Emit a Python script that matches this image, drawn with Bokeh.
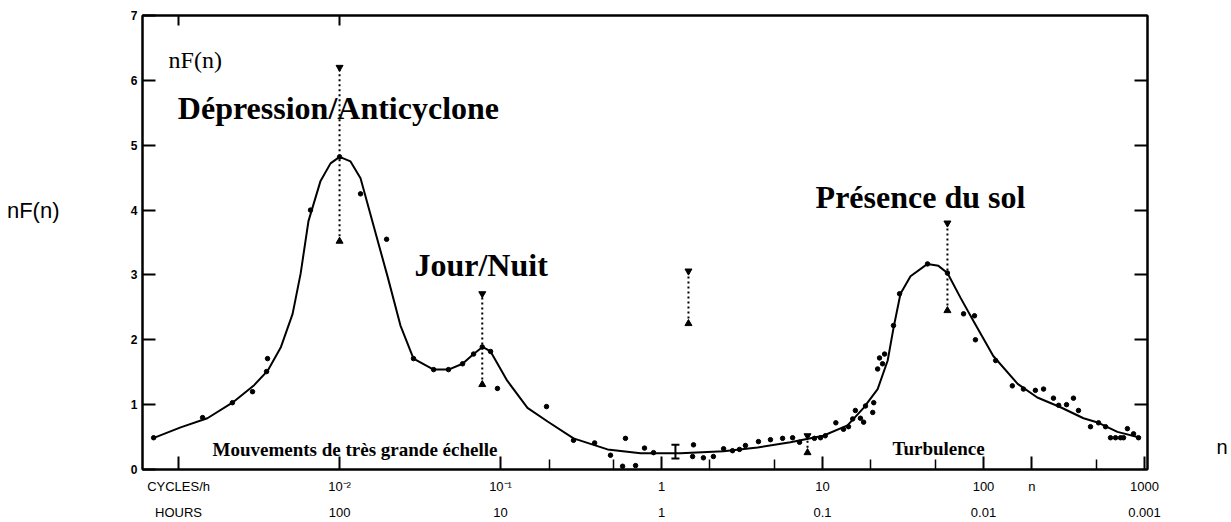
from bokeh.plotting import figure
from bokeh.models import Range1d, FixedTicker, LogAxis, LinearAxis, Label
from bokeh.embed import file_html
from bokeh.resources import INLINE

# ---- data (n in cycles/h, nF(n)) ----
curve_n = [6.9e-4, 1.03e-3, 1.51e-3, 2.16e-3, 2.92e-3, 3.57e-3, 4.31e-3, 5.11e-3, 5.73e-3,
           6.41e-3, 7.62e-3, 8.79e-3, 0.0100, 0.0117, 0.0135, 0.0163, 0.0199, 0.0239, 0.0288,
           0.0384, 0.0475, 0.0581, 0.0680, 0.0773, 0.0867, 0.110, 0.147, 0.196, 0.284, 0.462,
           0.741, 1.31, 2.43, 3.95, 6.32, 10.1, 14.3, 18.0, 22.0, 25.4, 27.6, 30.5, 35.2, 44.9,
           52.5, 59.7, 71.9, 86.6, 115, 163, 216, 301, 418, 518, 679, 944]
curve_nf = [0.48, 0.65, 0.79, 1.03, 1.29, 1.52, 1.88, 2.40, 3.02,
            3.83, 4.45, 4.72, 4.82, 4.75, 4.49, 3.75, 2.97, 2.22, 1.71,
            1.54, 1.54, 1.63, 1.78, 1.89, 1.82, 1.37, 0.95, 0.74, 0.48, 0.31,
            0.25, 0.25, 0.28, 0.34, 0.42, 0.52, 0.68, 0.95, 1.24, 1.68, 2.18, 2.71, 2.98, 3.17,
            3.14, 3.03, 2.65, 2.29, 1.75, 1.32, 1.11, 0.96, 0.79, 0.72, 0.58, 0.49]

pts_n = [7.0e-4, 1.41e-3, 2.16e-3, 2.88e-3, 3.52e-3, 3.57e-3, 6.6e-3, 0.01, 0.0135, 0.0196,
         0.0288, 0.0384, 0.0475, 0.0581, 0.0680, 0.077, 0.0867, 0.0957, 0.193,
         0.284, 0.384, 0.482, 0.573, 0.597, 0.690, 0.784, 0.892,
         1.56, 1.58, 1.82, 2.10, 2.43, 2.76, 3.05, 3.32, 4.00, 4.75, 5.65, 6.52, 7.20,
         8.91, 9.72, 10.4, 12.1, 13.5, 14.5, 15.4, 16.0, 17.2, 18.0, 18.5, 20.5, 20.8,
         22.0, 22.6, 23.6, 24.3, 27.6, 30.1, 44.9, 59.7, 75.2, 87.9, 89.1,
         119, 151, 177, 210, 236, 272, 293, 328, 362, 389, 462, 518, 573,
         615, 661, 710, 741, 783, 855, 918]
pts_nf = [0.49, 0.80, 1.03, 1.20, 1.51, 1.71, 4.00, 4.82, 4.25, 3.55,
          1.71, 1.54, 1.54, 1.63, 1.78, 1.89, 1.82, 1.25, 0.97,
          0.45, 0.41, 0.22, 0.05, 0.48, 0.06, 0.33, 0.26,
          0.20, 0.38, 0.18, 0.20, 0.32, 0.29, 0.31, 0.37, 0.43, 0.46, 0.48, 0.49, 0.42,
          0.48, 0.49, 0.52, 0.72, 0.62, 0.66, 0.78, 0.91, 0.79, 0.73, 0.98, 0.88, 1.03,
          1.55, 1.72, 1.63, 1.78, 2.22, 2.71, 3.17, 3.03, 2.40, 2.37, 2.00,
          1.68, 1.29, 1.24, 1.22, 1.24, 1.10, 0.99, 1.00, 1.10, 0.91, 0.66, 0.72, 0.66,
          0.49, 0.49, 0.49, 0.49, 0.63, 0.55, 0.49]

# dotted range bars
bar_n = [0.01, 0.077, 1.47, 59.7, 8.07]
bar_hi = [6.2, 2.71, 3.06, 3.80, 0.52]
bar_lo = [3.52, 1.31, 2.25, 2.45, 0.26]
# solid bar with caps
ibar_n = [1.22]
ibar_hi = [0.38]
ibar_lo = [0.17]

decade_ticks = [0.001, 0.01, 0.1, 1, 10, 100, 200, 1000]
minor_ticks = [0.2, 0.5, 2, 5, 20, 50, 500]
cycle_labels = ["CYCLES/h", "10⁻²", "10⁻¹", "1", "10", "100", "n", "1000"]
hour_ticks = [0.001, 0.01, 0.1, 1, 10, 100, 1000]
hour_labels = ["HOURS", "100", "10", "1", "0.1", "0.01", "0.001"]
top_ticks = [0.001, 0.01]
y_ticks = [0, 1, 2, 3, 4, 5, 6, 7]
right_ticks = [1, 2, 3, 4, 5, 6]
y_title_pos = [4.0]
y_title = ["nF(n)"]
x_title_pos = [0.34]
x_title = ["n"]

p = figure(width=1231, height=522, x_axis_type="log",
           x_axis_location=None, y_axis_location=None,
           x_range=Range1d(5.97e-4, 1044), y_range=Range1d(0, 7),
           min_border_left=142, min_border_right=84, min_border_top=15, min_border_bottom=53,
           output_backend="svg", toolbar_location=None)
p.grid.visible = False
p.outline_line_color = "black"
p.outline_line_width = 2
p.background_fill_color = "white"
p.border_fill_color = "white"

# bottom axis: cycles/h
xa = LogAxis(ticker=FixedTicker(ticks=decade_ticks, minor_ticks=minor_ticks))
xa.major_label_overrides = {t: l for t, l in zip(decade_ticks, cycle_labels)}
xa.axis_line_width = 2
xa.major_tick_in = 13
xa.major_tick_out = 0
xa.minor_tick_in = 10
xa.minor_tick_out = 0
xa.major_tick_line_width = 2
xa.minor_tick_line_width = 1.5
xa.major_label_standoff = 9
xa.major_label_text_font = "Liberation Sans"
xa.major_label_text_font_size = "13px"
xa.major_label_text_color = "black"
p.add_layout(xa, "below")

# second bottom axis: hours
ha = LogAxis(ticker=FixedTicker(ticks=hour_ticks, minor_ticks=[]))
ha.major_label_overrides = {t: l for t, l in zip(hour_ticks, hour_labels)}
ha.axis_line_color = None
ha.major_tick_line_color = None
ha.minor_tick_line_color = None
ha.major_label_standoff = 2
ha.major_label_text_font = "Liberation Sans"
ha.major_label_text_font_size = "13px"
ha.major_label_text_color = "black"
p.add_layout(ha, "below")

# left axis
ya = LinearAxis(ticker=FixedTicker(ticks=y_ticks, minor_ticks=[]))
ya.axis_line_width = 2
ya.major_tick_in = 13
ya.major_tick_out = 0
ya.major_tick_line_width = 2
ya.major_label_standoff = 5
ya.major_label_text_font = "Liberation Sans"
ya.major_label_text_font_style = "bold"
ya.major_label_text_font_size = "12px"
ya.major_label_text_color = "black"
p.add_layout(ya, "left")

# outer left title "nF(n)" (label-only axis)
yt = LinearAxis(ticker=FixedTicker(ticks=y_title_pos, minor_ticks=[]))
yt.major_label_overrides = {t: l for t, l in zip(y_title_pos, y_title)}
yt.axis_line_color = None
yt.major_tick_line_color = None
yt.minor_tick_line_color = None
yt.major_label_standoff = 62
yt.major_label_text_font = "Liberation Sans"
yt.major_label_text_font_size = "22px"
yt.major_label_text_color = "black"
p.add_layout(yt, "left")

# right axis (ticks only)
ra = LinearAxis(ticker=FixedTicker(ticks=right_ticks, minor_ticks=[]))
ra.axis_line_width = 2
ra.major_tick_in = 13
ra.major_tick_out = 0
ra.major_tick_line_width = 2
ra.major_label_text_font_size = "1px"
ra.major_label_text_alpha = 0
ra.major_label_standoff = 0
p.add_layout(ra, "right")

# outer right "n" (label-only axis)
xt = LinearAxis(ticker=FixedTicker(ticks=x_title_pos, minor_ticks=[]))
xt.major_label_overrides = {t: l for t, l in zip(x_title_pos, x_title)}
xt.axis_line_color = None
xt.major_tick_line_color = None
xt.minor_tick_line_color = None
xt.major_label_standoff = 63
xt.major_label_text_font = "Liberation Sans"
xt.major_label_text_font_size = "20px"
xt.major_label_text_color = "black"
p.add_layout(xt, "right")

# top axis (ticks only)
ta = LogAxis(ticker=FixedTicker(ticks=top_ticks, minor_ticks=[]))
ta.axis_line_width = 2
ta.major_tick_in = 10
ta.major_tick_out = 0
ta.major_tick_line_width = 2
ta.major_label_text_font_size = "1px"
ta.major_label_text_alpha = 0
ta.major_label_standoff = 0
p.add_layout(ta, "above")

# curve
p.line(curve_n, curve_nf, line_color="black", line_width=2)
# points
p.scatter(pts_n, pts_nf, size=4.5, color="black")
# dotted range bars
p.segment(x0=bar_n, y0=bar_lo, x1=bar_n, y1=bar_hi, line_color="black",
          line_width=2, line_dash="2 3")
p.scatter(bar_n, bar_hi, marker="inverted_triangle", size=7, color="black")
p.scatter(bar_n, bar_lo, marker="triangle", size=7, color="black")
# solid capped bar
p.segment(x0=ibar_n, y0=ibar_lo, x1=ibar_n, y1=ibar_hi, line_color="black", line_width=2)
p.scatter(ibar_n, ibar_hi, marker="dash", size=8, color="black", line_width=2)
p.scatter(ibar_n, ibar_lo, marker="dash", size=8, color="black", line_width=2)

serif = "Liberation Serif"
def add_label(**kw):
    kw.setdefault("text_baseline", "alphabetic")
    kw.setdefault("text_align", "left")
    kw.setdefault("text_color", "black")
    p.add_layout(Label(**kw))

add_label(x=0.00099, y=5.57, text="Dépression/Anticyclone", text_font=serif,
          text_font_style="bold", text_font_size="32px")
add_label(x=0.0292, y=3.16, text="Jour/Nuit", text_font=serif,
          text_font_style="bold", text_font_size="32px")
add_label(x=9.06, y=4.2, text="Présence du sol", text_font=serif,
          text_font_style="bold", text_font_size="32px")
add_label(x=0.001625, y=0.31, text="Mouvements de très grande échelle", text_font=serif,
          text_font_style="bold", text_font_size="19px")
add_label(x=27.2, y=0.32, text="Turbulence", text_font=serif,
          text_font_style="bold", text_font_size="19px")
add_label(x=8.67e-4, y=6.32, text="nF(n)", text_font=serif, text_font_size="24px")

open("out.html", "w").write(file_html(p, INLINE))
